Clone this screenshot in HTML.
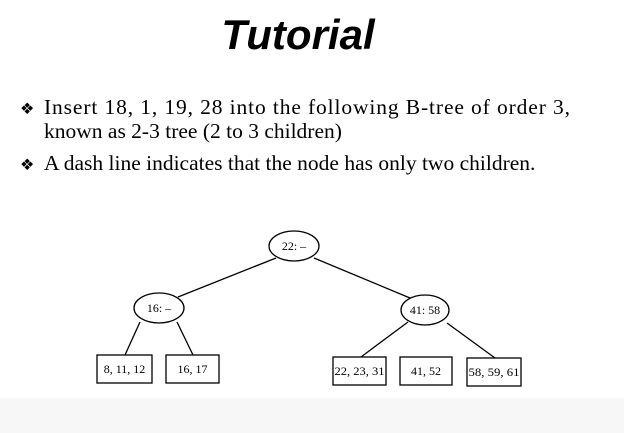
<!DOCTYPE html>
<html><head><meta charset="utf-8"><style>
body{margin:0;width:624px;height:433px;background:#fff;overflow:hidden}
svg{display:block}
</style></head><body>
<svg width="624" height="433" viewBox="0 0 624 433">
<rect x="0" y="398" width="624" height="35" fill="#f7f7f7"/>
<text x="298" y="49" text-anchor="middle" font-family="Liberation Sans, sans-serif" font-weight="bold" font-style="italic" font-size="42" fill="#000">Tutorial</text>
<g font-family="Liberation Serif, serif" font-size="21.5" fill="#000">
<text x="20" y="114" font-size="16">❖</text>
<text x="44" y="114" textLength="526" lengthAdjust="spacing">Insert 18, 1, 19, 28 into the following B-tree of order 3,</text>
<text x="44" y="138">known as 2-3 tree (2 to 3 children)</text>
<text x="20" y="170" font-size="16">❖</text>
<text x="44" y="170">A dash line indicates that the node has only two children.</text>
</g>
<g stroke="#000" stroke-width="1.3" fill="none">
<line x1="276" y1="258" x2="178" y2="297"/>
<line x1="314" y1="258" x2="410" y2="298"/>
<line x1="140" y1="322" x2="125" y2="355"/>
<line x1="177" y1="322" x2="193" y2="355"/>
<line x1="408" y1="322" x2="361" y2="357"/>
<line x1="447" y1="323" x2="495" y2="358"/>
</g>
<g font-family="Liberation Serif, serif" font-size="12" text-anchor="middle" fill="#000">
<g><ellipse cx="294" cy="246" rx="25" ry="15" fill="#fff" stroke="#000" stroke-width="1.3"/><text x="294" y="250">22: –</text></g>
<g><ellipse cx="159" cy="308" rx="25" ry="15" fill="#fff" stroke="#000" stroke-width="1.3"/><text x="159" y="312">16: –</text></g>
<g><ellipse cx="425" cy="310" rx="24" ry="15" fill="#fff" stroke="#000" stroke-width="1.3"/><text x="425" y="314">41: 58</text></g>
<g><rect x="97" y="355" width="55" height="28" fill="#fff" stroke="#000" stroke-width="1.3"/><text x="124.5" y="373">8, 11, 12</text></g>
<g><rect x="166" y="355" width="53" height="28" fill="#fff" stroke="#000" stroke-width="1.3"/><text x="192.5" y="373">16, 17</text></g>
<g><rect x="333" y="357" width="53" height="28" fill="#fff" stroke="#000" stroke-width="1.3"/><text x="359.5" y="375" textLength="50" lengthAdjust="spacingAndGlyphs">22, 23, 31</text></g>
<g><rect x="400" y="357" width="52" height="28" fill="#fff" stroke="#000" stroke-width="1.3"/><text x="426" y="375">41, 52</text></g>
<g><rect x="467" y="358" width="54" height="28" fill="#fff" stroke="#000" stroke-width="1.3"/><text x="494" y="376" textLength="51" lengthAdjust="spacingAndGlyphs">58, 59, 61</text></g>
</g>
</svg>
</body></html>
